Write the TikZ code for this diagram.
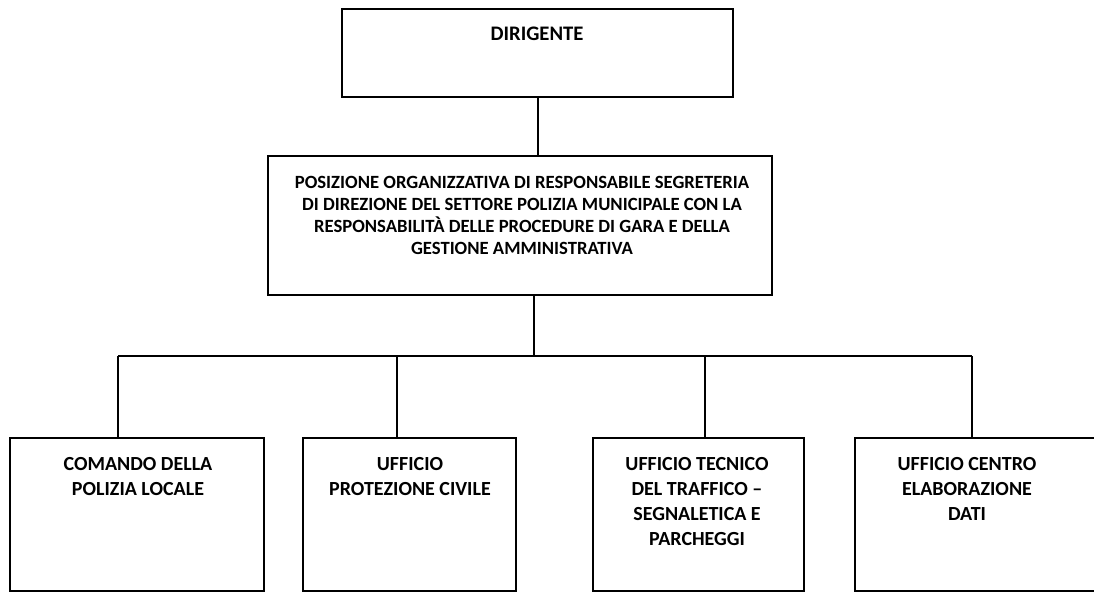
\documentclass[tikz,border=0pt]{standalone}
\usepackage{fontspec}
\setmainfont{Carlito}
\begin{document}
\begin{tikzpicture}[x=0.75pt,y=-0.75pt,
  box/.style={draw,line width=1.5pt,inner sep=0pt},
  conn/.style={line width=1.5pt},
  txt/.style={anchor=north,inner sep=0pt,align=center,font=\bfseries\fontsize{14}{16.5}\selectfont},
  btxt/.style={anchor=north,inner sep=0pt,align=center,font=\bfseries\fontsize{15}{18.7}\selectfont}]
\useasboundingbox (0,0) rectangle (1094,592);
\clip (0,0) rectangle (1094,592);
% boxes
\node[box,minimum width=293.25pt,minimum height=66pt] (dir) at (537.5,53) {};
\node[box,minimum width=378pt,minimum height=104.25pt] (mid) at (520,225.5) {};
\node[box,minimum width=190.5pt,minimum height=114.75pt] (b1) at (137,514.5) {};
\node[box,minimum width=159.75pt,minimum height=114.75pt] (b2) at (409.5,514.5) {};
\node[box,minimum width=158.25pt,minimum height=114.75pt] (b3) at (698.5,514.5) {};
\node[box,minimum width=202.5pt,minimum height=114.75pt] (b4) at (990,514.5) {};
% texts
\node[txt,font=\bfseries\fontsize{15.5}{18}\selectfont] (tdir) at (537,26.5) {DIRIGENTE};
\node[txt] (tmid) at (522,176) {POSIZIONE ORGANIZZATIVA DI RESPONSABILE SEGRETERIA\\DI DIREZIONE DEL SETTORE POLIZIA MUNICIPALE CON LA\\RESPONSABILITÀ DELLE PROCEDURE DI GARA E DELLA\\GESTIONE AMMINISTRATIVA};
\node[btxt] (t1) at (138,457) {COMANDO DELLA\\POLIZIA LOCALE};
\node[btxt] (t2) at (410,457) {UFFICIO\\PROTEZIONE CIVILE};
\node[btxt] (t3) at (697,457) {UFFICIO TECNICO\\DEL TRAFFICO –\\SEGNALETICA E\\PARCHEGGI};
\node[btxt] (t4) at (967,457) {UFFICIO CENTRO\\ELABORAZIONE\\DATI};
% connectors
\coordinate (bus) at (534,356);
\coordinate (j1) at (118,356);
\coordinate (j2) at (397,356);
\coordinate (j3) at (705,356);
\coordinate (j4) at (972,356);
\draw[conn] (dir.south) -- (dir.south |- mid.north);
\draw[conn] (mid.south -| bus) -- (bus);
\draw[conn] (j1) -- (j4);
\draw[conn] (j1) -- (j1 |- b1.north);
\draw[conn] (j2) -- (j2 |- b2.north);
\draw[conn] (j3) -- (j3 |- b3.north);
\draw[conn] (j4) -- (j4 |- b4.north);
\end{tikzpicture}
\end{document}
